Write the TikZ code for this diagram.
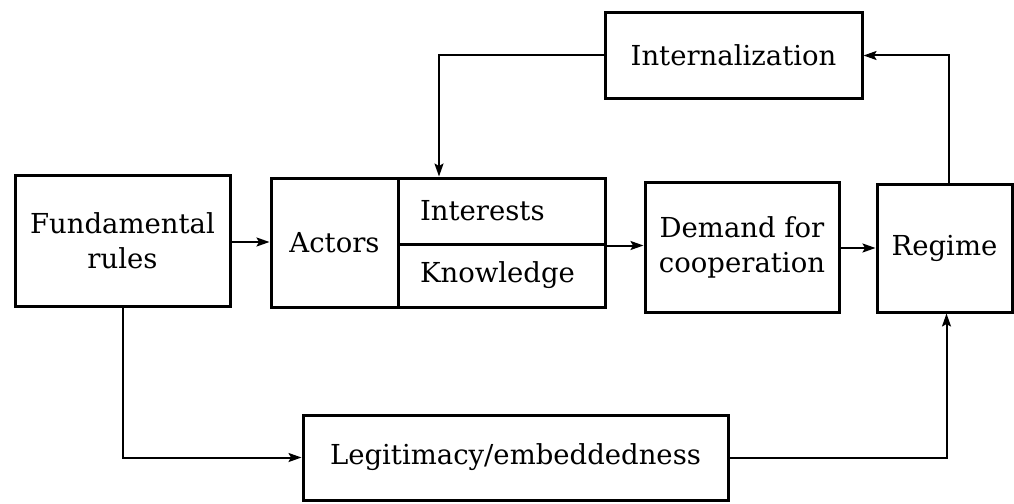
\documentclass[tikz,border=0pt]{standalone}
\usepackage{fontspec}
\setmainfont{DejaVu Serif}
\usepackage{tikz}
\usetikzlibrary{arrows.meta,positioning,calc}
\tikzset{
  regbox/.style={rectangle, draw=black, line width=3pt, fill=white,
                 align=center, font=\fontsize{27.5}{35}\selectfont,
                 inner sep=0pt},
  cellbox/.style={regbox, align=left, inner xsep=22pt},
  arr/.style={-{Stealth[length=13pt,width=9pt,inset=2.5pt]}, line width=2pt},
}
\begin{document}
\begin{tikzpicture}[x=1pt, y=-1pt]
  \useasboundingbox (0,0) rectangle (1014,503);
  % main row
  \node[regbox, minimum width=215pt, minimum height=131pt] (fund) at (122.5,240.5) {Fundamental\\rules};
  \node[regbox, minimum width=127pt, minimum height=129pt] (actors) at (334.5,242.5) {Actors};
  \node[cellbox, minimum width=207pt, text width=163pt, minimum height=66pt] (interests) at (501.5,211) {Interests};
  \node[cellbox, minimum width=207pt, text width=163pt, minimum height=63pt] (knowledge) at (501.5,275.5) {Knowledge};
  \node[regbox, minimum width=194pt, minimum height=130pt] (demand) at (742,247) {Demand for\\cooperation};
  \node[regbox, minimum width=135pt, minimum height=128pt] (regime) at (944.5,248) {Regime};
  % feedback and side boxes
  \node[regbox, minimum width=257pt, minimum height=85pt] (internal) at (733.5,55.5) {Internalization};
  \node[regbox, minimum width=425pt, minimum height=85pt] (legit) at (515.5,457.5) {Legitimacy/embeddedness};
  \coordinate (drop) at (439,176.5);
  % connectors
  \draw[arr] (fund.east |- 0,242) -- (actors.west |- 0,242);
  \draw[arr] (interests.south east) -- (demand.west |- interests.south east);
  \draw[arr] (demand.east |- 0,248) -- (regime.west |- 0,248);
  \draw[arr] ([xshift=4pt]regime.north) |- (internal.east);
  \draw[arr] (internal.west) -| (drop);
  \draw[arr] (fund.south) |- (legit.west);
  \draw[arr] (legit.east) -| ([xshift=2pt]regime.south);
\end{tikzpicture}
\end{document}
